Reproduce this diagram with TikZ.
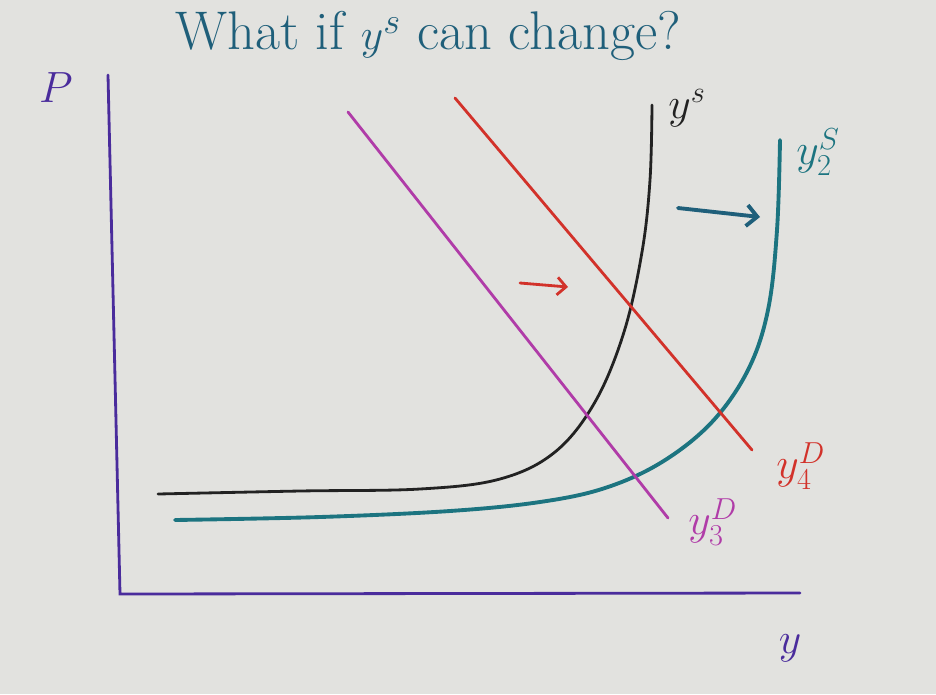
\documentclass[tikz,border=0pt]{standalone}
\usepackage{amsmath,amssymb}
\usepackage{xcolor}
\usetikzlibrary{arrows.meta}

\definecolor{paper}{HTML}{E2E2DF}
\definecolor{axisviolet}{HTML}{4A2C9C}
\definecolor{inkteal}{HTML}{1F5F7A}
\definecolor{supplyteal}{HTML}{1C7480}
\definecolor{demandmag}{HTML}{B03CA8}
\definecolor{demandred}{HTML}{D2322A}
\definecolor{supplyblk}{HTML}{222222}

\tikzset{
  pen/.style={line width=1.6pt, line cap=round},
  hand/.style={inner sep=0pt, font=\fontsize{24}{28}\selectfont},
}

\begin{document}
\begin{tikzpicture}[x=0.02cm, y=-0.02cm]
    % Paper
    \fill [paper] (0,0) rectangle (936,694);
    \useasboundingbox (0,0) rectangle (936,694);

    % Title and axis labels
    \node [hand, text=inkteal, font=\fontsize{31}{36}\selectfont] (title) at (428,36) {What if $y^{s}$ can change?};
    \node [hand, text=axisviolet] (plabel) at (56,88) {$P$};
    \node [hand, text=axisviolet] (ylabel) at (790,648) {$y$};

    % Axes
    \coordinate (top) at (108,75);
    \coordinate (origin) at (120,594);
    \coordinate (right) at (800,593);
    \draw [pen, axisviolet] (top) -- (origin) -- (right);

    % Supply curves
    \coordinate (ys start) at (158,494);
    \coordinate (ys end) at (652,105);
    \draw [pen, supplyblk] plot [smooth, tension=0.6] coordinates {(ys start) (300,491) (420,489)
        (500,479) (555,452) (595,402) (624,332) (642,252) (650,180) (ys end)};
    \node [hand, text=supplyblk, anchor=west] (ys) at (668,108) {$y^{s}$};

    \coordinate (ys2 start) at (175,520);
    \coordinate (ys2 end) at (780,140);
    \draw [pen, supplyteal, line width=2.2pt] plot [smooth, tension=0.6] coordinates {(ys2 start)
        (320,517) (450,511) (540,502) (605,488) (662,462) (712,422) (748,370) (768,310) (777,230) (ys2 end)};
    \node [hand, text=supplyteal, anchor=west] (ys2) at (796,152) {$y^{S}_{2}$};

    % Demand curves
    \coordinate (yd3 top) at (348,112);
    \coordinate (yd3 end) at (668,518);
    \draw [pen, demandmag] (yd3 top) -- (yd3 end);
    \node [hand, text=demandmag, anchor=west] (yd3) at (688,522) {$y^{D}_{3}$};

    \coordinate (yd4 top) at (455,98);
    \coordinate (yd4 end) at (752,450);
    \draw [pen, demandred] (yd4 top) -- (yd4 end);
    \node [hand, text=demandred, anchor=west] (yd4) at (776,466) {$y^{D}_{4}$};

    % Shift arrows
    \coordinate (shift a) at (678,208);
    \coordinate (shift b) at (760,217);
    \draw [pen, inkteal, line width=2.2pt, -{Straight Barb[length=6pt]}] (shift a) -- (shift b);

    \coordinate (nudge a) at (520,283);
    \coordinate (nudge b) at (568,287);
    \draw [pen, demandred, -{Straight Barb[length=5pt]}] (nudge a) -- (nudge b);
\end{tikzpicture}
\end{document}
